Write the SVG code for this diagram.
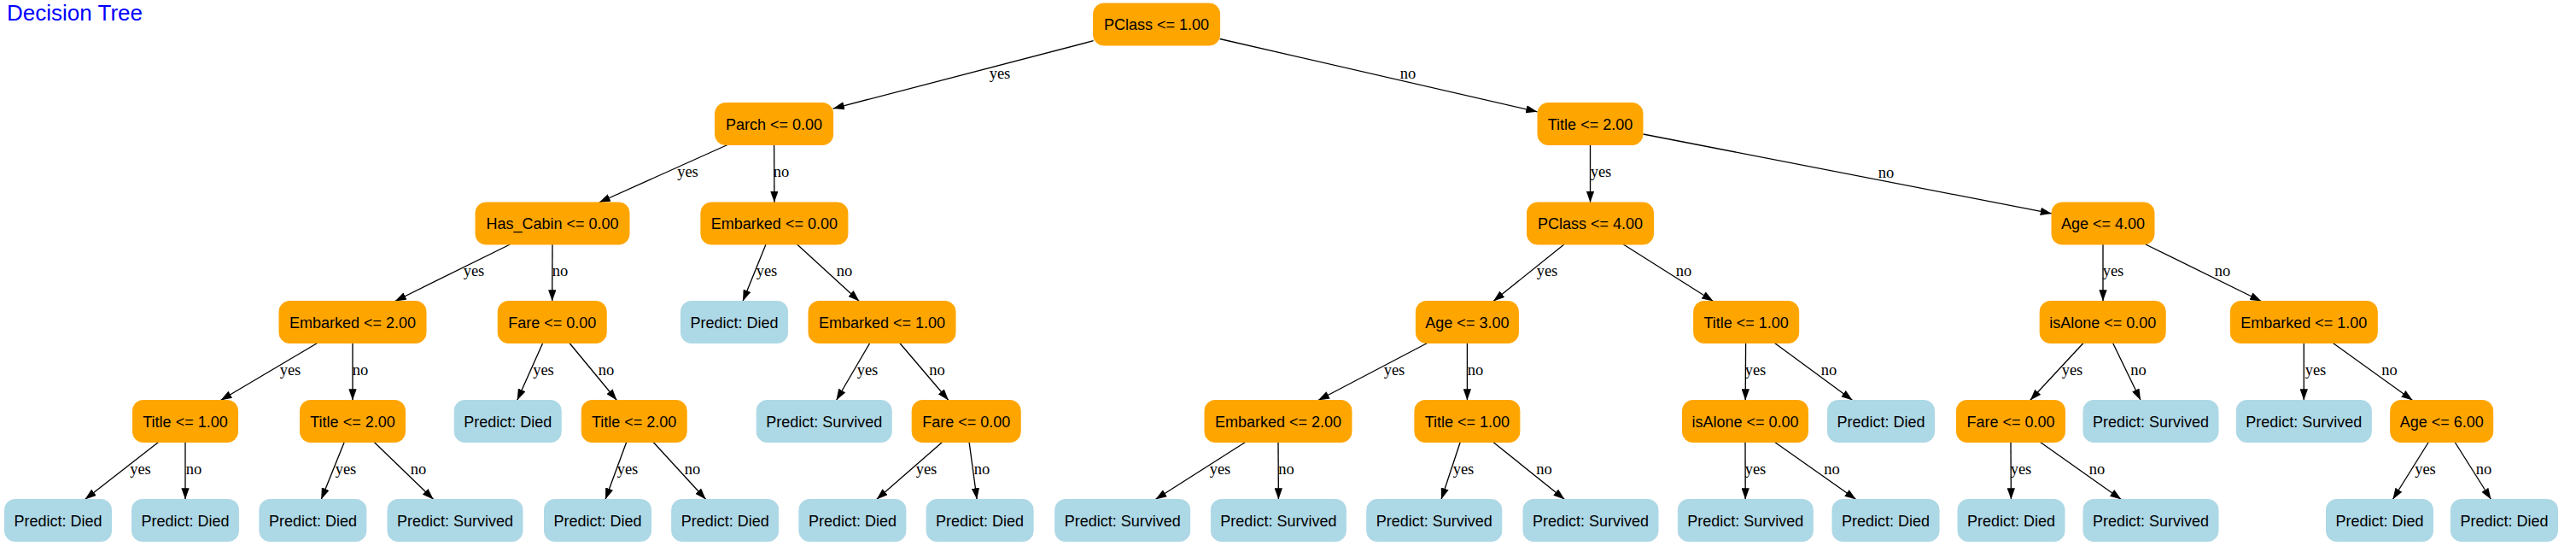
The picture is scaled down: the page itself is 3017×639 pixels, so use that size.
<svg xmlns="http://www.w3.org/2000/svg" width="3017" height="639" viewBox="0 0 3017 639">
<style>
.dn rect{fill:#FFA500;stroke:#FFA500;stroke-width:1}
.lf rect{fill:#ADD8E6;stroke:#ADD8E6;stroke-width:1}
.n text{font-family:"Liberation Sans",Arial,sans-serif;font-size:18px;fill:#000;text-anchor:middle}
.e path{fill:none;stroke:#000;stroke-width:1.33;marker-end:url(#ah)}
.e text{font-family:"Liberation Serif","Times New Roman",serif;font-size:18.5px;fill:#000;text-anchor:middle}
.title{font-family:"Liberation Sans",Arial,sans-serif;font-size:26px;fill:#0000FF}
</style>
<defs>
<marker id="ah" markerUnits="userSpaceOnUse" viewBox="0 0 13.3 9.3" refX="13.3" refY="4.65" markerWidth="13.3" markerHeight="9.3" orient="auto">
<path d="M0,0 L13.3,4.65 L0,9.3 z" fill="#000"/>
</marker>
</defs>
<rect width="3017" height="639" fill="#fff"/>
<text class="title" x="8" y="24">Decision Tree</text>

<g id="connectors" class="e">
<path d="M1280.6,47.7 L975.6,127.1"/><text x="1171" y="92">yes</text>
<path d="M1428.6,45.5 L1800.5,130.8"/><text x="1649" y="92">no</text>
<path d="M852,169.5 L701.6,237"/><text x="805.5" y="207">yes</text>
<path d="M906.6,169.5 L906.9,237"/><text x="915" y="207">no</text>
<path d="M1862.5,169.5 L1862.5,237"/><text x="1875" y="207">yes</text>
<path d="M1924.5,157 L2403,249.9"/><text x="2209" y="208">no</text>
<path d="M597.4,286 L462.6,352.5"/><text x="555" y="323">yes</text>
<path d="M647,286 L646.7,352.5"/><text x="656" y="323">no</text>
<path d="M897,286 L870,352.5"/><text x="898" y="323">yes</text>
<path d="M933.6,286 L1006.3,352.5"/><text x="989" y="323">no</text>
<path d="M1831.9,286 L1749,352.5"/><text x="1812" y="323">yes</text>
<path d="M1901.3,286 L2006.5,352.5"/><text x="1972" y="323">no</text>
<path d="M2463,286 L2463,352.5"/><text x="2475" y="323">yes</text>
<path d="M2512.9,286 L2648.4,352.5"/><text x="2603" y="323">no</text>
<path d="M371.6,401.5 L258.4,468.5"/><text x="340" y="439">yes</text>
<path d="M413,401.5 L413,468.5"/><text x="422" y="439">no</text>
<path d="M635.7,401.5 L605.7,468.5"/><text x="636.5" y="439">yes</text>
<path d="M667,401.5 L722.4,468.5"/><text x="710" y="439">no</text>
<path d="M1018.7,401.5 L979.5,468.5"/><text x="1016" y="439">yes</text>
<path d="M1053.8,401.5 L1110.9,468.5"/><text x="1097.5" y="439">no</text>
<path d="M1671.6,401.5 L1543.8,468.5"/><text x="1633" y="439">yes</text>
<path d="M1718.4,401.5 L1718.4,468.5"/><text x="1728" y="439">no</text>
<path d="M2044.6,401.5 L2044.2,468.5"/><text x="2056" y="439">yes</text>
<path d="M2078.5,401.5 L2169.7,468.5"/><text x="2142" y="439">no</text>
<path d="M2440,401.5 L2377.7,468.5"/><text x="2427" y="439">yes</text>
<path d="M2474.6,401.5 L2507.1,468.5"/><text x="2504.5" y="439">no</text>
<path d="M2698.3,401.5 L2698.3,468.5"/><text x="2712" y="439">yes</text>
<path d="M2732.4,401.5 L2825.6,468.5"/><text x="2798.5" y="439">no</text>
<path d="M185.5,517.5 L99.5,584.5"/><text x="164.5" y="555">yes</text>
<path d="M217,517.5 L217,584.5"/><text x="227" y="555">no</text>
<path d="M403.2,517.5 L376.2,584.5"/><text x="405" y="555">yes</text>
<path d="M438.3,517.5 L507.7,584.5"/><text x="490" y="555">no</text>
<path d="M733.7,517.5 L709,584.5"/><text x="735" y="555">yes</text>
<path d="M765.2,517.5 L826.7,584.5"/><text x="811" y="555">no</text>
<path d="M1103.5,517.5 L1026.6,584.5"/><text x="1085" y="555">yes</text>
<path d="M1135.1,517.5 L1144.2,584.5"/><text x="1150" y="555">no</text>
<path d="M1458.5,517.5 L1353.2,584.5"/><text x="1429" y="555">yes</text>
<path d="M1497,517.5 L1497.4,584.5"/><text x="1506.5" y="555">no</text>
<path d="M1710.2,517.5 L1688,584.5"/><text x="1714" y="555">yes</text>
<path d="M1748.9,517.5 L1832.5,584.5"/><text x="1808.5" y="555">no</text>
<path d="M2044,517.5 L2044.2,584.5"/><text x="2056" y="555">yes</text>
<path d="M2078.7,517.5 L2173.8,584.5"/><text x="2145.5" y="555">no</text>
<path d="M2355,517.5 L2355.4,584.5"/><text x="2367" y="555">yes</text>
<path d="M2389.6,517.5 L2484.4,584.5"/><text x="2456" y="555">no</text>
<path d="M2844.3,517.5 L2802.4,584.5"/><text x="2840.5" y="555">yes</text>
<path d="M2875.2,517.5 L2917.5,584.5"/><text x="2909" y="555">no</text>
</g>

<g id="n0" class="n dn"><rect x="1280.6" y="4" width="148" height="49" rx="12"/><text x="1354.6" y="35">PClass &lt;= 1.00</text></g>
<g id="n1" class="n dn"><rect x="837.6" y="120.5" width="138" height="49" rx="12"/><text x="906.6" y="151.5">Parch &lt;= 0.00</text></g>
<g id="n2" class="n dn"><rect x="1801" y="120.5" width="123" height="49" rx="12"/><text x="1862.5" y="151.5">Title &lt;= 2.00</text></g>
<g id="n3" class="n dn"><rect x="557" y="237" width="180" height="49" rx="12"/><text x="647" y="268">Has_Cabin &lt;= 0.00</text></g>
<g id="n4" class="n dn"><rect x="820.9" y="237" width="172" height="49" rx="12"/><text x="906.9" y="268">Embarked &lt;= 0.00</text></g>
<g id="n5" class="n dn"><rect x="1788.5" y="237" width="148" height="49" rx="12"/><text x="1862.5" y="268">PClass &lt;= 4.00</text></g>
<g id="n6" class="n dn"><rect x="2403" y="237" width="120" height="49" rx="12"/><text x="2463" y="268">Age &lt;= 4.00</text></g>
<g id="n7" class="n dn"><rect x="327" y="352.5" width="172" height="49" rx="12"/><text x="413" y="383.5">Embarked &lt;= 2.00</text></g>
<g id="n8" class="n dn"><rect x="583.2" y="352.5" width="127" height="49" rx="12"/><text x="646.7" y="383.5">Fare &lt;= 0.00</text></g>
<g id="n9" class="n lf"><rect x="797.5" y="352.5" width="125" height="49" rx="12"/><text x="860" y="383.5">Predict: Died</text></g>
<g id="n10" class="n dn"><rect x="947" y="352.5" width="172" height="49" rx="12"/><text x="1033" y="383.5">Embarked &lt;= 1.00</text></g>
<g id="n11" class="n dn"><rect x="1658.4" y="352.5" width="120" height="49" rx="12"/><text x="1718.4" y="383.5">Age &lt;= 3.00</text></g>
<g id="n12" class="n dn"><rect x="1983.7" y="352.5" width="123" height="49" rx="12"/><text x="2045.2" y="383.5">Title &lt;= 1.00</text></g>
<g id="n13" class="n dn"><rect x="2389.2" y="352.5" width="147" height="49" rx="12"/><text x="2462.7" y="383.5">isAlone &lt;= 0.00</text></g>
<g id="n14" class="n dn"><rect x="2612.3" y="352.5" width="172" height="49" rx="12"/><text x="2698.3" y="383.5">Embarked &lt;= 1.00</text></g>
<g id="n15" class="n dn"><rect x="155.5" y="468.5" width="123" height="49" rx="12"/><text x="217" y="499.5">Title &lt;= 1.00</text></g>
<g id="n16" class="n dn"><rect x="351.5" y="468.5" width="123" height="49" rx="12"/><text x="413" y="499.5">Title &lt;= 2.00</text></g>
<g id="n17" class="n lf"><rect x="532.2" y="468.5" width="125" height="49" rx="12"/><text x="594.7" y="499.5">Predict: Died</text></g>
<g id="n18" class="n dn"><rect x="681.2" y="468.5" width="123" height="49" rx="12"/><text x="742.7" y="499.5">Title &lt;= 2.00</text></g>
<g id="n19" class="n lf"><rect x="886.2" y="468.5" width="158" height="49" rx="12"/><text x="965.2" y="499.5">Predict: Survived</text></g>
<g id="n20" class="n dn"><rect x="1068.2" y="468.5" width="127" height="49" rx="12"/><text x="1131.7" y="499.5">Fare &lt;= 0.00</text></g>
<g id="n21" class="n dn"><rect x="1411" y="468.5" width="172" height="49" rx="12"/><text x="1497" y="499.5">Embarked &lt;= 2.00</text></g>
<g id="n22" class="n dn"><rect x="1656.9" y="468.5" width="123" height="49" rx="12"/><text x="1718.4" y="499.5">Title &lt;= 1.00</text></g>
<g id="n23" class="n dn"><rect x="1970.5" y="468.5" width="147" height="49" rx="12"/><text x="2044" y="499.5">isAlone &lt;= 0.00</text></g>
<g id="n24" class="n lf"><rect x="2140.5" y="468.5" width="125" height="49" rx="12"/><text x="2203" y="499.5">Predict: Died</text></g>
<g id="n25" class="n dn"><rect x="2291.5" y="468.5" width="127" height="49" rx="12"/><text x="2355" y="499.5">Fare &lt;= 0.00</text></g>
<g id="n26" class="n lf"><rect x="2440" y="468.5" width="158" height="49" rx="12"/><text x="2519" y="499.5">Predict: Survived</text></g>
<g id="n27" class="n lf"><rect x="2619.3" y="468.5" width="158" height="49" rx="12"/><text x="2698.3" y="499.5">Predict: Survived</text></g>
<g id="n28" class="n dn"><rect x="2799.7" y="468.5" width="120" height="49" rx="12"/><text x="2859.7" y="499.5">Age &lt;= 6.00</text></g>
<g id="n29" class="n lf"><rect x="5.5" y="584.5" width="125" height="49" rx="12"/><text x="68" y="615.5">Predict: Died</text></g>
<g id="n30" class="n lf"><rect x="154.5" y="584.5" width="125" height="49" rx="12"/><text x="217" y="615.5">Predict: Died</text></g>
<g id="n31" class="n lf"><rect x="303.9" y="584.5" width="125" height="49" rx="12"/><text x="366.4" y="615.5">Predict: Died</text></g>
<g id="n32" class="n lf"><rect x="454" y="584.5" width="158" height="49" rx="12"/><text x="533" y="615.5">Predict: Survived</text></g>
<g id="n33" class="n lf"><rect x="637.5" y="584.5" width="125" height="49" rx="12"/><text x="700" y="615.5">Predict: Died</text></g>
<g id="n34" class="n lf"><rect x="786.7" y="584.5" width="125" height="49" rx="12"/><text x="849.2" y="615.5">Predict: Died</text></g>
<g id="n35" class="n lf"><rect x="935.9" y="584.5" width="125" height="49" rx="12"/><text x="998.4" y="615.5">Predict: Died</text></g>
<g id="n36" class="n lf"><rect x="1085.1" y="584.5" width="125" height="49" rx="12"/><text x="1147.6" y="615.5">Predict: Died</text></g>
<g id="n37" class="n lf"><rect x="1235.7" y="584.5" width="158" height="49" rx="12"/><text x="1314.7" y="615.5">Predict: Survived</text></g>
<g id="n38" class="n lf"><rect x="1418.4" y="584.5" width="158" height="49" rx="12"/><text x="1497.4" y="615.5">Predict: Survived</text></g>
<g id="n39" class="n lf"><rect x="1600.8" y="584.5" width="158" height="49" rx="12"/><text x="1679.8" y="615.5">Predict: Survived</text></g>
<g id="n40" class="n lf"><rect x="1784" y="584.5" width="158" height="49" rx="12"/><text x="1863" y="615.5">Predict: Survived</text></g>
<g id="n41" class="n lf"><rect x="1965.3" y="584.5" width="158" height="49" rx="12"/><text x="2044.3" y="615.5">Predict: Survived</text></g>
<g id="n42" class="n lf"><rect x="2146" y="584.5" width="125" height="49" rx="12"/><text x="2208.5" y="615.5">Predict: Died</text></g>
<g id="n43" class="n lf"><rect x="2293" y="584.5" width="125" height="49" rx="12"/><text x="2355.5" y="615.5">Predict: Died</text></g>
<g id="n44" class="n lf"><rect x="2440" y="584.5" width="158" height="49" rx="12"/><text x="2519" y="615.5">Predict: Survived</text></g>
<g id="n45" class="n lf"><rect x="2724.5" y="584.5" width="125" height="49" rx="12"/><text x="2787" y="615.5">Predict: Died</text></g>
<g id="n46" class="n lf"><rect x="2870.5" y="584.5" width="125" height="49" rx="12"/><text x="2933" y="615.5">Predict: Died</text></g>
</svg>
